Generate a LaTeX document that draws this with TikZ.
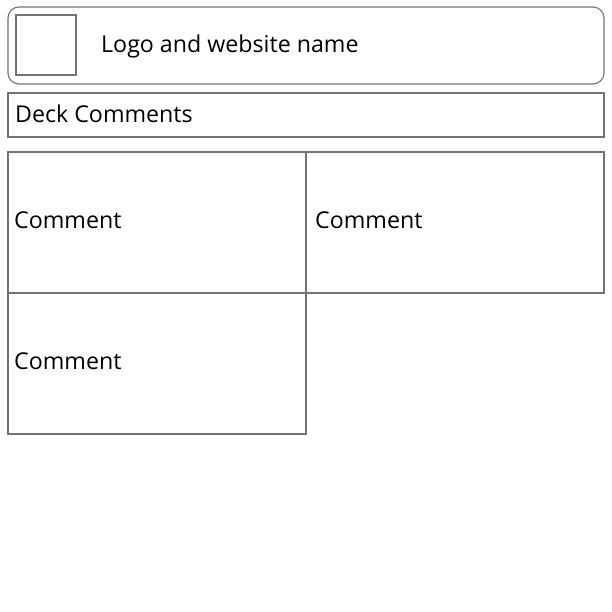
\documentclass[tikz,border=0pt]{standalone}
\usepackage{fontspec}
\setmainfont{Open Sans}
\begin{document}
\begin{tikzpicture}[x=1pt,y=-1pt,
  frame/.style={draw=black!55,line width=1.1pt},
  lbl/.style={anchor=base west,inner sep=0pt,font=\fontsize{23.2}{27}\selectfont,text=black}]
\useasboundingbox[fill=white] (0,0) rectangle (612,612);
% header
\draw[frame,rounded corners=11pt] (8,7) rectangle (604,84);
\draw[frame] (16,15) rectangle (76,75);
\node[lbl] (logo) at (101,53) {Logo and website name};
% deck comments bar
\draw[frame] (8,93) rectangle (604,137);
\node[lbl] (deck) at (15,123) {Deck Comments};
% comment cells
\draw[frame] (8,152) rectangle (306,293);
\draw[frame] (306,152) rectangle (604,293);
\draw[frame] (8,293) rectangle (306,434);
\node[lbl] (c1) at (14,228) {Comment};
\node[lbl] (c2) at (315,228) {Comment};
\node[lbl] (c3) at (14,369) {Comment};
\end{tikzpicture}
\end{document}
